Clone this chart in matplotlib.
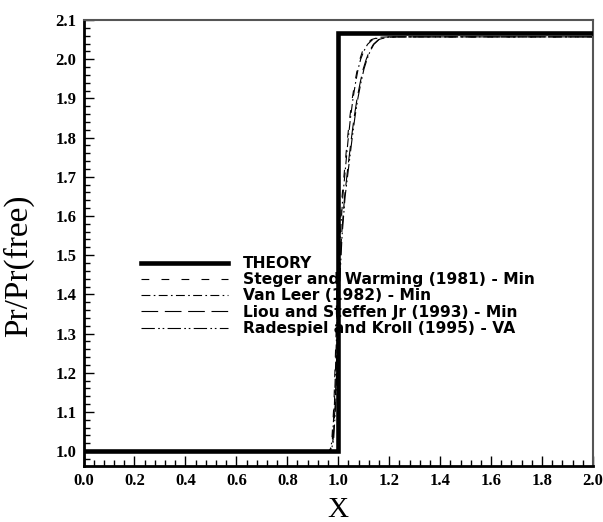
import matplotlib
matplotlib.use("Agg")
import matplotlib.pyplot as plt
from matplotlib.ticker import MultipleLocator, FormatStrFormatter

# Exact shock solution
theory_x = [0.0, 1.0, 1.0, 2.0]
theory_p = [1.0, 1.0, 2.068, 2.068]

# Numerical schemes (pressure ratio vs. x)
sw_x = [0.0, 0.965, 0.975, 0.983, 0.99, 0.997, 1.005, 1.015, 1.025, 1.035, 1.045, 1.055,
        1.065, 1.075, 1.085, 1.095, 1.11, 1.13, 1.16, 1.2, 2.0]
sw_p = [1.0, 1.0, 1.03, 1.12, 1.27, 1.42, 1.55, 1.65, 1.72, 1.79, 1.85, 1.9,
        1.94, 1.975, 2.0, 2.02, 2.038, 2.05, 2.056, 2.057, 2.057]

vl_x = [0.0, 0.967, 0.977, 0.985, 0.992, 1.0, 1.008, 1.018, 1.028, 1.038, 1.048, 1.058,
        1.068, 1.078, 1.088, 1.1, 1.115, 1.135, 1.165, 1.2, 2.0]
vl_p = [1.0, 1.0, 1.03, 1.12, 1.27, 1.42, 1.55, 1.65, 1.72, 1.79, 1.85, 1.9,
        1.94, 1.975, 2.0, 2.02, 2.038, 2.05, 2.056, 2.057, 2.057]

ls_x = [0.0, 0.97, 0.98, 0.988, 0.995, 1.003, 1.013, 1.025, 1.037, 1.05, 1.062, 1.074,
        1.086, 1.098, 1.11, 1.122, 1.138, 1.158, 1.19, 1.23, 2.0]
ls_p = [1.0, 1.0, 1.03, 1.12, 1.27, 1.42, 1.55, 1.65, 1.72, 1.79, 1.85, 1.9,
        1.94, 1.975, 2.0, 2.02, 2.038, 2.05, 2.056, 2.057, 2.057]

rk_x = [0.0, 0.972, 0.982, 0.99, 0.997, 1.005, 1.015, 1.027, 1.04, 1.053, 1.065, 1.077,
        1.089, 1.101, 1.113, 1.125, 1.14, 1.16, 1.19, 1.23, 2.0]
rk_p = [1.0, 1.0, 1.03, 1.12, 1.27, 1.42, 1.55, 1.65, 1.72, 1.79, 1.85, 1.9,
        1.94, 1.975, 2.0, 2.02, 2.038, 2.05, 2.056, 2.057, 2.057]

labels = ["THEORY",
          "Steger and Warming (1981) - Min",
          "Van Leer (1982) - Min",
          "Liou and Steffen Jr (1993) - Min",
          "Radespiel and Kroll (1995) - VA"]

fig = plt.figure(figsize=(6.03, 5.22), dpi=100)
ax = fig.add_axes([83.5 / 603, 1 - 466 / 522, (593 - 83.5) / 603, (466 - 20) / 522])

ax.plot(theory_x, theory_p, color="black", lw=3.3, solid_joinstyle="miter", label=labels[0], zorder=5)
ax.plot(sw_x, sw_p, color="black", lw=0.8, dashes=(7, 11), label=labels[1])
ax.plot(vl_x, vl_p, color="black", lw=0.8, dashes=(8, 3, 1.5, 3), label=labels[2])
ax.plot(ls_x, ls_p, color="black", lw=0.8, dashes=(15, 6), label=labels[3])
ax.plot(rk_x, rk_p, color="black", lw=0.8, dashes=(12, 3, 1.5, 2.5, 1.5, 3), label=labels[4])

ax.set_xlim(0.0, 2.0)
ax.set_ylim(0.962, 2.1)

ax.xaxis.set_major_locator(MultipleLocator(0.2))
ax.xaxis.set_minor_locator(MultipleLocator(0.04))
ax.yaxis.set_major_locator(MultipleLocator(0.1))
ax.yaxis.set_minor_locator(MultipleLocator(0.02))
ax.xaxis.set_major_formatter(FormatStrFormatter("%.1f"))
ax.yaxis.set_major_formatter(FormatStrFormatter("%.1f"))
ax.set_yticks([1.0 + 0.1 * i for i in range(12)])

ax.tick_params(which="both", direction="in", top=False, right=False, color="black")
ax.tick_params(which="major", length=7, width=1.0, pad=5)
ax.tick_params(which="minor", length=4, width=1.0)
for lab in ax.get_xticklabels() + ax.get_yticklabels():
    lab.set_fontfamily("Liberation Serif")
    lab.set_fontweight("bold")
    lab.set_fontsize(12)

for side in ["left", "bottom"]:
    ax.spines[side].set_linewidth(2.0)
for side in ["top", "right"]:
    ax.spines[side].set_linewidth(1.5)
    ax.spines[side].set_color("#555555")

ax.set_xlabel("X", fontfamily="Liberation Serif", fontsize=21, labelpad=6)
ax.set_ylabel("Pr/Pr(free)", fontfamily="Liberation Serif", fontsize=24)
ax.yaxis.set_label_coords(-0.097, 0.45)

leg = ax.legend(loc="upper left", bbox_to_anchor=(141 / 603, 1 - 256 / 522),
                bbox_transform=fig.transFigure, frameon=False, borderpad=0,
                borderaxespad=0, handlelength=5.6, handletextpad=0.95,
                labelspacing=0.08,
                prop={"family": "DejaVu Sans", "weight": "bold", "size": 11.2})

fig.savefig("out.png", dpi=100)
